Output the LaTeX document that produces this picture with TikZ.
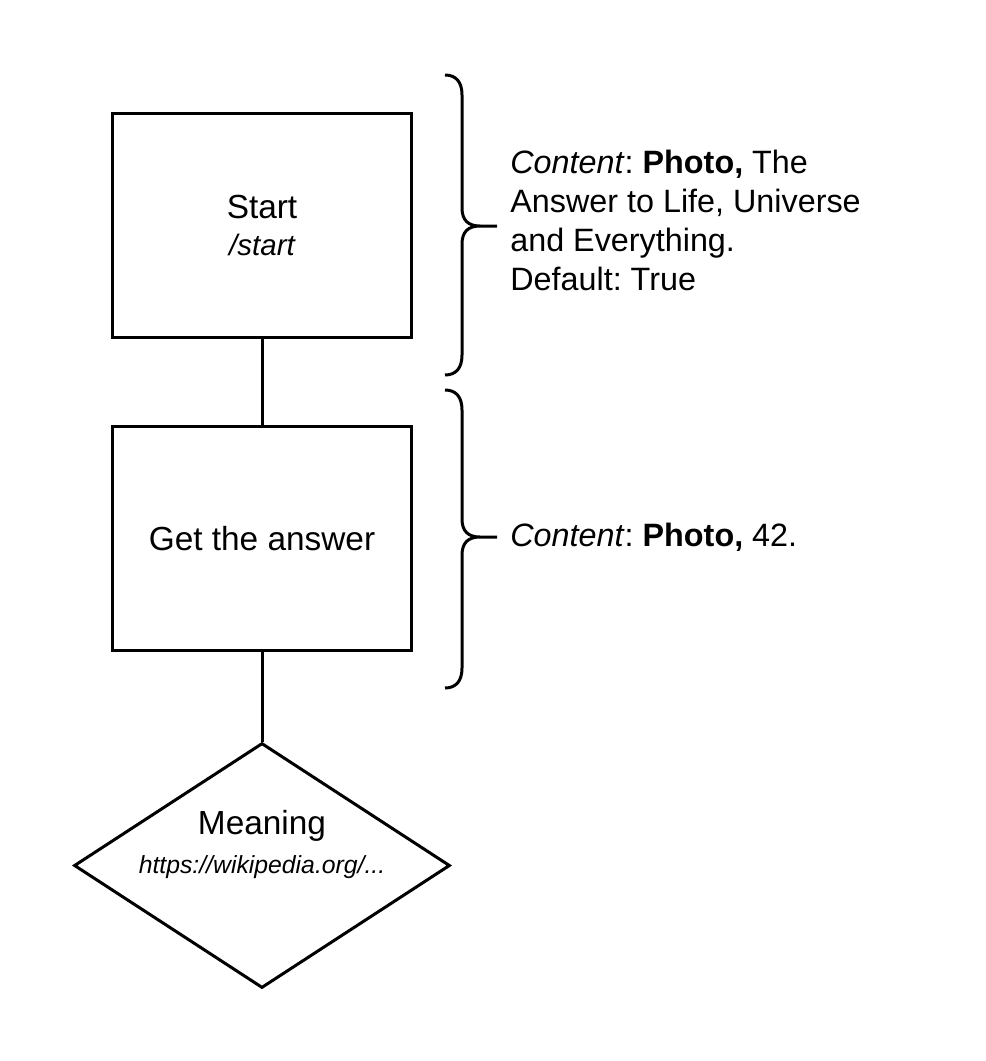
\documentclass[tikz,border=0pt]{standalone}
\usepackage{fontspec}
\setmainfont{Liberation Sans}
\usetikzlibrary{shapes.geometric}
\frenchspacing

\begin{document}
\begin{tikzpicture}[
        x=0.02cm, y=-0.02cm,
        bloque/.style={
            rectangle,
            draw=black,
            line width=0.06cm,
            minimum width=6cm,
            minimum height=4.5cm,
            align=center,
            inner sep=0pt,
            font=\fontsize{19pt}{21.6pt}\selectfont
        },
        rombo/.style={
            diamond,
            draw=black,
            line width=0.06cm,
            aspect=1.535,
            inner sep=0pt,
            minimum width=7.52cm,
            minimum height=4.9cm
        },
        detalle/.style={
            align=left,
            inner sep=0pt,
            font=\fontsize{18.4pt}{22.1pt}\selectfont
        },
        linea/.style={line width=0.06cm, draw=black},
        llave/.style={line width=0.06cm, draw=black}
    ]
        \useasboundingbox (0,0) rectangle (986,1061);

        \node[bloque] (inicio) at (262,225.5)
            {Start\\ \fontsize{16.8pt}{16.8pt}\selectfont\itshape /start};
        \node[bloque] (respuesta) at (262,538.5) {Get the answer};
        \node[rombo] (significado) at (262,865.5) {};
        \node[detalle, align=center, anchor=base] (significadot) at (262,873)
            {\fontsize{19pt}{21.6pt}\selectfont Meaning\\ \fontsize{14.1pt}{21.6pt}\selectfont\itshape https://wikipedia.org/...};

        \node[detalle, anchor=base west] (iniciod) at (510,290)
            {\textit{Content}: \textbf{Photo,} The\\
             Answer to Life, Universe\\
             and Everything.\\
             Default: True};
        \node[detalle, anchor=base west] (respuestad) at (510,546)
            {\textit{Content}: \textbf{Photo,} 42.};

        \draw[linea] (inicio.south) -- (respuesta.north);
        \draw[linea] (respuesta.south) -- (significado.north);

        % llaves
        \foreach \t/\m/\b in {75/226/375, 390/537/688} {
            \draw[llave] (445,\t) .. controls (456,\t) and (462,{\t+7}) .. (462,{\t+20})
                -- (462,{\m-18}) .. controls (462,{\m-6}) and (468,\m) .. (480,\m) -- (497,\m)
                (480,\m) .. controls (468,\m) and (462,{\m+6}) .. (462,{\m+18})
                -- (462,{\b-20}) .. controls (462,{\b-7}) and (456,\b) .. (445,\b);
        }
    \end{tikzpicture}
\end{document}
